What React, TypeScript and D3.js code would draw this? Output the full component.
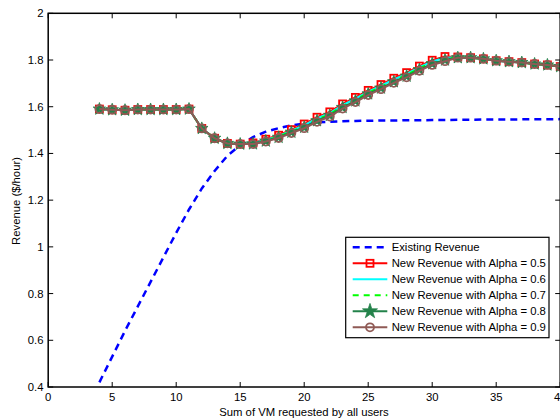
import React from "react";
import * as d3 from "d3";

// x: total VMs requested (integer steps 4..40)
const vmTotals = [4,5,6,7,8,9,10,11,12,13,14,15,16,17,18,19,20,21,22,23,24,25,26,27,28,29,30,31,32,33,34,35,36,37,38,39,40];

const existingRevenue = [0.42,0.53,0.64,0.745,0.85,0.955,1.06,1.16,1.25,1.325,1.39,1.435,1.47,1.493,1.508,1.52,1.528,1.533,1.536,1.538,1.539,1.54,1.541,1.541,1.542,1.542,1.543,1.543,1.544,1.544,1.545,1.545,1.545,1.546,1.546,1.546,1.547];

const alpha05 = [1.590,1.587,1.585,1.588,1.588,1.588,1.588,1.590,1.507,1.465,1.443,1.440,1.445,1.461,1.478,1.502,1.526,1.555,1.578,1.612,1.640,1.670,1.695,1.722,1.746,1.774,1.799,1.815,1.813,1.810,1.805,1.797,1.793,1.789,1.783,1.779,1.772];
const alpha06 = [1.590,1.587,1.585,1.588,1.588,1.588,1.588,1.590,1.507,1.465,1.443,1.440,1.444,1.458,1.475,1.498,1.521,1.550,1.573,1.607,1.635,1.665,1.690,1.717,1.741,1.769,1.794,1.810,1.812,1.810,1.805,1.797,1.793,1.789,1.783,1.779,1.772];
const alpha07 = [1.590,1.587,1.585,1.588,1.588,1.588,1.588,1.590,1.507,1.465,1.443,1.440,1.442,1.456,1.472,1.494,1.517,1.545,1.568,1.602,1.630,1.660,1.685,1.712,1.736,1.764,1.789,1.805,1.811,1.810,1.805,1.797,1.793,1.789,1.783,1.779,1.772];
const alpha08 = [1.590,1.587,1.585,1.588,1.588,1.588,1.588,1.590,1.507,1.465,1.443,1.440,1.441,1.453,1.469,1.491,1.512,1.540,1.563,1.597,1.625,1.655,1.680,1.707,1.731,1.759,1.784,1.800,1.810,1.810,1.805,1.797,1.793,1.789,1.783,1.779,1.772];
const alpha09 = [1.590,1.587,1.585,1.588,1.588,1.588,1.588,1.590,1.507,1.465,1.443,1.440,1.440,1.451,1.466,1.487,1.508,1.535,1.558,1.592,1.620,1.650,1.675,1.702,1.726,1.754,1.779,1.795,1.810,1.810,1.805,1.797,1.793,1.789,1.783,1.779,1.772];

const xTicks = [0,5,10,15,20,25,30,35,40];
const yTicks = [0.4,0.6,0.8,1,1.2,1.4,1.6,1.8,2];

type Marker = "none" | "square" | "star" | "circle";
interface Series { name: string; values: number[]; color: string; dash?: string; width: number; marker: Marker; }

const series: Series[] = [
  { name: "Existing Revenue", values: existingRevenue, color: "#0000ff", dash: "7,5", width: 2.5, marker: "none" },
  { name: "New Revenue with Alpha = 0.5", values: alpha05, color: "#ff0000", width: 2, marker: "square" },
  { name: "New Revenue with Alpha = 0.6", values: alpha06, color: "#00ffff", width: 2, marker: "none" },
  { name: "New Revenue with Alpha = 0.7", values: alpha07, color: "#00ff00", dash: "6,5", width: 2, marker: "none" },
  { name: "New Revenue with Alpha = 0.8", values: alpha08, color: "#23824a", width: 2, marker: "star" },
  { name: "New Revenue with Alpha = 0.9", values: alpha09, color: "#8f5a55", width: 2, marker: "circle" },
];

const W = 560, H = 420;
const x = d3.scaleLinear().domain([0, 40]).range([48.2, 560.2]);
const y = d3.scaleLinear().domain([0.4, 2]).range([387, 13.3]);
const font = "'Liberation Sans', Arial, sans-serif";
const fs = 11.3;

const starPlot = d3.symbol().type(d3.symbolStar).size(48)() as string;
const starLegend = d3.symbol().type(d3.symbolStar).size(70)() as string;

function MarkerGlyph({ m, color, cx, cy, big }: { m: Marker; color: string; cx: number; cy: number; big?: boolean }) {
  if (m === "square") return <rect x={cx - 3.5} y={cy - 3.5} width={7} height={7} fill="none" stroke={color} strokeWidth={1.8} />;
  if (m === "circle") return <circle cx={cx} cy={cy} r={4} fill="none" stroke={color} strokeWidth={1.8} />;
  if (m === "star") return <path d={big ? starLegend : starPlot} transform={`translate(${cx},${cy})`} fill={color} stroke={color} strokeWidth={0.8} />;
  return null;
}

export default function App() {
  const line = d3.line<number>().x((_, i) => x(vmTotals[i])).y((v) => y(v));
  const [x0, x1] = x.range();
  const [yb, yt] = y.range();
  const legX = 345.7, legY = 237.3, legW = 203.3, legH = 100.4;
  return (
    <svg width={W} height={H} style={{ position: "absolute", left: 0, top: 0, background: "#fff" }} fontFamily={font}>
      <rect x={0} y={0} width={W} height={H} fill="#fff" />
      {/* data lines */}
      {series.map((s) => (
        <g key={s.name}>
          <path d={line(s.values) as string} fill="none" stroke={s.color} strokeWidth={s.width} strokeDasharray={s.dash} />
          {s.marker !== "none" && s.values.map((v, i) => (
            <MarkerGlyph key={i} m={s.marker} color={s.color} cx={x(vmTotals[i])} cy={y(v)} />
          ))}
        </g>
      ))}
      {/* axes box and ticks */}
      <rect x={x0} y={yt} width={x1 - x0} height={yb - yt} fill="none" stroke="#000" strokeWidth={1.5} />
      {xTicks.map((t) => (
        <g key={"x" + t}>
          <line x1={x(t)} x2={x(t)} y1={yb} y2={yb - 5} stroke="#000" strokeWidth={1} />
          <line x1={x(t)} x2={x(t)} y1={yt} y2={yt + 5} stroke="#000" strokeWidth={1} />
          <text x={x(t)} y={yb + 14} textAnchor="middle" fontSize={fs}>{t}</text>
        </g>
      ))}
      {yTicks.map((t) => (
        <g key={"y" + t}>
          <line x1={x0} x2={x0 + 5} y1={y(t)} y2={y(t)} stroke="#000" strokeWidth={1} />
          <line x1={x1} x2={x1 - 5} y1={y(t)} y2={y(t)} stroke="#000" strokeWidth={1} />
          <text x={43.5} y={y(t) + 4} textAnchor="end" fontSize={fs}>{d3.format("~g")(t)}</text>
        </g>
      ))}
      <text x={304} y={415.5} textAnchor="middle" fontSize={fs}>Sum of VM requested by all users</text>
      <text transform="translate(20,201) rotate(-90)" textAnchor="middle" fontSize={fs}>Revenue ($/hour)</text>
      {/* legend */}
      <rect x={legX} y={legY} width={legW} height={legH} fill="#fff" stroke="#000" strokeWidth={1.2} />
      {series.map((s, i) => {
        const ly = 247.3 + i * 16;
        return (
          <g key={"leg" + i}>
            <line x1={352.7} x2={387.3} y1={ly} y2={ly} stroke={s.color} strokeWidth={s.width} strokeDasharray={s.dash} />
            {s.marker !== "none" && <MarkerGlyph m={s.marker} color={s.color} cx={370} cy={ly} big />}
            <text x={391.7} y={ly + 4} fontSize={fs}>{s.name}</text>
          </g>
        );
      })}
    </svg>
  );
}
